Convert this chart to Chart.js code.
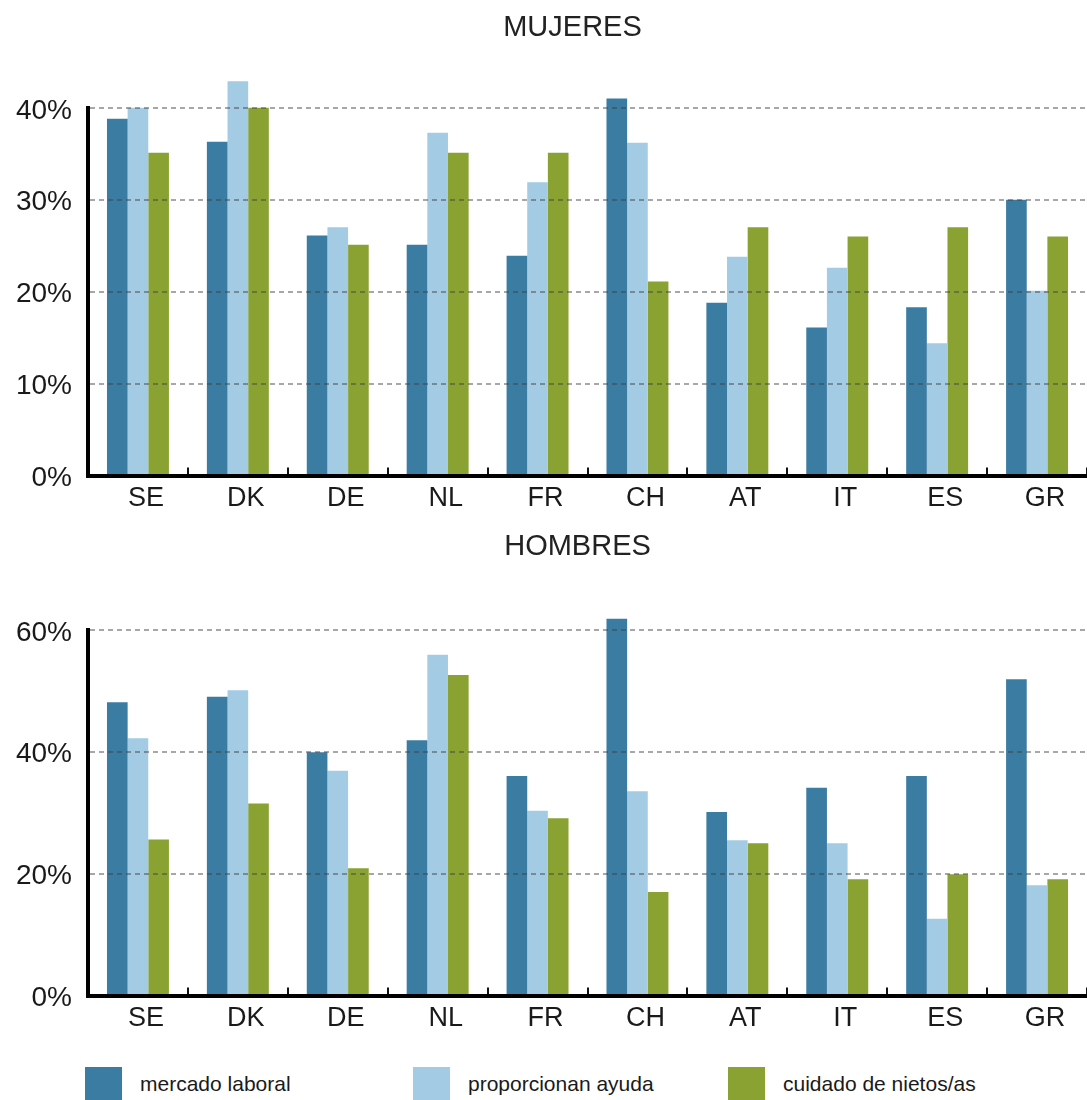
<!DOCTYPE html>
<html>
<head>
<meta charset="utf-8">
<script src="https://cdn.jsdelivr.net/npm/chart.js@4.4.1/dist/chart.umd.min.js"></script>
<style>
  html, body { margin: 0; padding: 0; background: #fff; }
  #page { position: relative; width: 1087px; height: 1100px; overflow: hidden; font-family: "Liberation Sans", Arial, sans-serif; }
  #c1 { position: absolute; left: 0; top: 0; }
  #c2 { position: absolute; left: 0; top: 530px; }
  #legend { position: absolute; left: 0; top: 1067px; width: 1087px; height: 33px; }
  .item { position: absolute; top: 0; height: 33px; }
  .swatch { position: absolute; left: 0; top: 0; width: 37px; height: 33px; }
  .label { position: absolute; left: 55px; top: 0; line-height: 34px; font-size: 21px; color: #1a1a1a; white-space: nowrap; }
</style>
</head>
<body>
<div id="page">
  <canvas id="c1" width="1087" height="530"></canvas>
  <canvas id="c2" width="1087" height="520"></canvas>
  <div id="legend"></div>
</div>
<script>
// Countries on the x axis
const categories = ['SE', 'DK', 'DE', 'NL', 'FR', 'CH', 'AT', 'IT', 'ES', 'GR'];
const seriesNames = ['mercado laboral', 'proporcionan ayuda', 'cuidado de nietos/as'];

// Women (%)
const mujeresMercado = [38.8, 36.3, 26.1, 25.1, 23.9, 41.0, 18.8, 16.1, 18.3, 30.0];
const mujeresAyuda   = [40.0, 42.9, 27.0, 37.3, 31.9, 36.2, 23.8, 22.6, 14.4, 20.1];
const mujeresNietos  = [35.1, 40.0, 25.1, 35.1, 35.1, 21.1, 27.0, 26.0, 27.0, 26.0];

// Men (%)
const hombresMercado = [48.1, 49.0, 39.9, 41.9, 36.0, 61.8, 30.1, 34.1, 36.0, 51.9];
const hombresAyuda   = [42.2, 50.1, 36.9, 55.9, 30.3, 33.5, 25.5, 25.0, 12.6, 18.1];
const hombresNietos  = [25.6, 31.5, 20.9, 52.6, 29.1, 17.0, 25.0, 19.1, 19.9, 19.1];

// Y-axis tick values
const mujeresTicks = [0, 10, 20, 30, 40];
const hombresTicks = [0, 20, 40, 60];

const seriesColors = ['#3b7ca3', '#a3cbe4', '#89a232'];
const FONT = '"Liberation Sans", Arial, sans-serif';

// Nudges the centred title horizontally after layout
const titleShift = {
  id: 'titleShift',
  afterLayout(chart, args, opts) {
    const t = chart.titleBlock;
    if (t && opts.dx) { t.left += opts.dx; t.right += opts.dx; }
  }
};

function makeChart(canvas, title, series, ticks, titlePadding, titleDx) {
  return new Chart(canvas, {
    type: 'bar',
    data: {
      labels: categories,
      datasets: series.map((values, i) => ({
        label: seriesNames[i],
        data: values,
        backgroundColor: seriesColors[i],
        borderWidth: 0,
        categoryPercentage: 0.62,
        barPercentage: 1.0,
        clip: false
      }))
    },
    plugins: [titleShift],
    options: {
      responsive: false,
      animation: false,
      devicePixelRatio: 1,
      plugins: {
        legend: { display: false },
        tooltip: { enabled: false },
        titleShift: { dx: titleDx },
        title: {
          display: true,
          text: title,
          color: '#222',
          font: { family: FONT, size: 29, weight: 'normal' },
          padding: titlePadding
        }
      },
      scales: {
        x: {
          grid: {
            display: true,
            drawOnChartArea: false,
            drawTicks: true,
            tickLength: -8,
            color: '#111',
            lineWidth: 2,
            z: 1
          },
          border: { display: true, color: '#000', width: 4, z: 2 },
          ticks: {
            color: '#1a1a1a',
            font: { family: FONT, size: 27 },
            padding: 15,
            labelOffset: 8,
            maxRotation: 0,
            autoSkip: false
          }
        },
        y: {
          min: ticks[0],
          max: ticks[ticks.length - 1],
          afterBuildTicks: (scale) => { scale.ticks = ticks.map(v => ({ value: v })); },
          afterFit: (scale) => { scale.width = 88; },
          grid: {
            color: 'rgba(60,60,60,0.45)',
            lineWidth: 2,
            drawTicks: false,
            z: 1
          },
          // dash applies to the grid lines; the axis line itself stays solid
          border: { display: true, color: '#000', width: 4, dash: [5, 4], z: 2 },
          ticks: {
            color: '#1a1a1a',
            font: { family: FONT, size: 28 },
            padding: 16,
            labelOffset: 3,
            callback: (v) => v + '%'
          }
        }
      }
    }
  });
}

const chartM = makeChart(document.getElementById('c1'), 'MUJERES',
  [mujeresMercado, mujeresAyuda, mujeresNietos], mujeresTicks, { top: 11, bottom: 62 }, 29);
const chartH = makeChart(document.getElementById('c2'), 'HOMBRES',
  [hombresMercado, hombresAyuda, hombresNietos], hombresTicks, { top: 0, bottom: 65 }, 34);

// Shared legend built from the chart's own legend items
const legendLeft = [85, 413, 728];
const legendEl = document.getElementById('legend');
chartH.options.plugins.legend.labels.generateLabels(chartH).forEach((item, i) => {
  const div = document.createElement('div');
  div.className = 'item';
  div.style.left = legendLeft[i] + 'px';
  const sw = document.createElement('div');
  sw.className = 'swatch';
  sw.style.background = item.fillStyle;
  const lb = document.createElement('div');
  lb.className = 'label';
  lb.textContent = item.text;
  div.appendChild(sw);
  div.appendChild(lb);
  legendEl.appendChild(div);
});
</script>
</body>
</html>
